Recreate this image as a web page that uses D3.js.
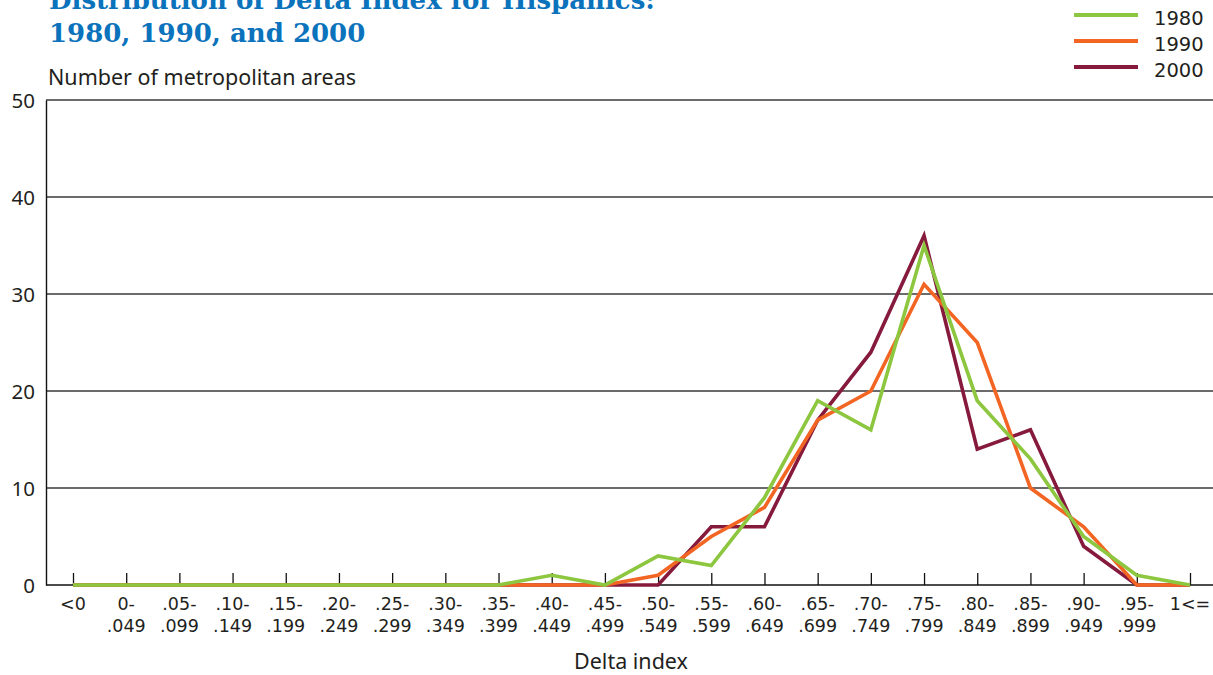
<!DOCTYPE html>
<html>
<head>
<meta charset="utf-8">
<script src="https://cdn.jsdelivr.net/npm/d3@7/dist/d3.min.js"></script>
<style>
  html, body { margin: 0; padding: 0; background: #fff; }
  svg { display: block; }
</style>
</head>
<body>
<svg id="chart" width="1213" height="675"></svg>
<script>
// Delta index bins (two-line tick labels)
const binTop = ["<0","0-",".05-",".10-",".15-",".20-",".25-",".30-",".35-",".40-",".45-",
                ".50-",".55-",".60-",".65-",".70-",".75-",".80-",".85-",".90-",".95-","1<="];
const binBottom = ["",".049",".099",".149",".199",".249",".299",".349",".399",".449",".499",
                   ".549",".599",".649",".699",".749",".799",".849",".899",".949",".999",""];

// Number of metropolitan areas in each bin
const values1980 = [0,0,0,0,0,0,0,0,0,1,0,3,2,9,19,16,35,19,13,5,1,0];
const values1990 = [0,0,0,0,0,0,0,0,0,0,0,1,5,8,17,20,31,25,10,6,0,0];
const values2000 = [0,0,0,0,0,0,0,0,0,0,0,0,6,6,17,24,36,14,16,4,0,0];

const yTicks = [0,10,20,30,40,50];
const seriesNames = ["1980","1990","2000"];
const seriesColors = ["#8dc63f","#f26522","#861a3d"];

const svg = d3.select("#chart");
const font = "'Noto Sans', 'DejaVu Sans', sans-serif";
const compactFont = "'DejaVu Sans', sans-serif";
const textColor = "#231f20";

const x = d3.scalePoint().domain(d3.range(binTop.length)).range([73, 1190]);
const y = d3.scaleLinear().domain([0, 50]).range([585, 100]);
const plotLeft = 46, plotRight = 1213;

// Title
const title = svg.append("text")
  .attr("fill", "#0b72bc")
  .style("font-family", "'DejaVu Serif', serif")
  .style("font-weight", "bold")
  .style("font-size", "26px");
title.append("tspan").attr("x", 49).attr("y", 9).text("Distribution of Delta Index for Hispanics:");
title.append("tspan").attr("x", 49).attr("y", 42).text("1980, 1990, and 2000");

// Y axis title
svg.append("text")
  .attr("x", 48).attr("y", 85)
  .attr("fill", textColor)
  .style("font-family", font).style("font-size", "21.5px")
  .text("Number of metropolitan areas");

// Gridlines
svg.append("g").selectAll("line")
  .data(yTicks.filter(d => d > 0))
  .join("line")
  .attr("x1", plotLeft).attr("x2", plotRight)
  .attr("y1", d => y(d)).attr("y2", d => y(d))
  .attr("stroke", "#3a3a3a").attr("stroke-width", 1.4);

// Y axis
const yAxis = d3.axisLeft(y).tickValues(yTicks).tickSize(0).tickPadding(11);
const gy = svg.append("g").attr("transform", `translate(${plotLeft},0)`).call(yAxis);
gy.select(".domain").attr("stroke", "#111").attr("stroke-width", 1.4);
gy.selectAll("text")
  .attr("fill", textColor)
  .style("font-family", font).style("font-size", "20.5px")
  .attr("dy", "0.35em");

// X axis baseline and ticks
svg.append("line")
  .attr("x1", plotLeft).attr("x2", plotRight)
  .attr("y1", y(0)).attr("y2", y(0))
  .attr("stroke", "#111").attr("stroke-width", 1.6);

const xAxis = d3.axisBottom(x).tickSize(-12).tickFormat(() => "");
const gx = svg.append("g").attr("transform", `translate(0,${y(0)})`).call(xAxis);
gx.select(".domain").remove();
gx.selectAll(".tick line").attr("stroke", "#111").attr("stroke-width", 1.3);

// Two-line bin labels
const labels = svg.append("g")
  .style("font-family", compactFont).style("font-size", "17.5px")
  .attr("fill", textColor);
labels.selectAll("text.top")
  .data(binTop)
  .join("text").attr("class", "top")
  .attr("x", (d, i) => x(i)).attr("y", 610)
  .attr("text-anchor", "middle")
  .text(d => d);
labels.selectAll("text.bottom")
  .data(binBottom.map((d, i) => ({ d, i })).filter(o => o.d !== ""))
  .join("text").attr("class", "bottom")
  .attr("x", o => x(o.i)).attr("y", 632)
  .attr("text-anchor", "middle")
  .text(o => o.d);

// X axis title
svg.append("text")
  .attr("x", 631).attr("y", 669)
  .attr("text-anchor", "middle")
  .attr("fill", textColor)
  .style("font-family", font).style("font-size", "21.5px")
  .text("Delta index");

// Lines: 2000 first, 1980 on top
const allSeries = [values1980, values1990, values2000];
const line = d3.line().x((d, i) => x(i)).y(d => y(d));
[2, 1, 0].forEach(k => {
  svg.append("path")
    .datum(allSeries[k])
    .attr("fill", "none")
    .attr("stroke", seriesColors[k])
    .attr("stroke-width", 3.6)
    .attr("stroke-linejoin", "miter")
    .attr("d", line);
});

// Legend
const legend = svg.append("g");
seriesNames.forEach((name, i) => {
  const ly = 15 + i * 26;
  legend.append("line")
    .attr("x1", 1074).attr("x2", 1138)
    .attr("y1", ly).attr("y2", ly)
    .attr("stroke", seriesColors[i]).attr("stroke-width", 4);
  legend.append("text")
    .attr("x", 1154).attr("y", ly + 10)
    .attr("fill", textColor)
    .style("font-family", compactFont).style("font-size", "19.5px")
    .text(name);
});
</script>
</body>
</html>
